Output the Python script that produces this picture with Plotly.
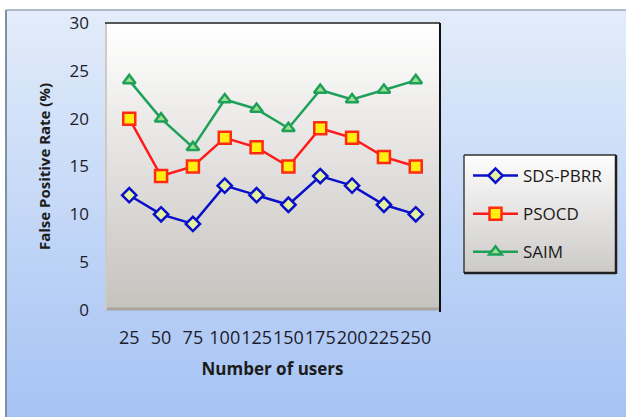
import plotly.graph_objects as go

# Data
users = ["25", "50", "75", "100", "125", "150", "175", "200", "225", "250"]
sds_pbrr = [12, 10, 9, 13, 12, 11, 14, 13, 11, 10]
psocd = [20, 14, 15, 18, 17, 15, 19, 18, 16, 15]
saim = [24, 20, 17, 22, 21, 19, 23, 22, 23, 24]

W, H = 626, 417
L, R, T, B = 105, 440, 23, 310  # plot area in pixels


def px(x):
    return (x - L) / (R - L)


def py(y):
    return (B - y) / (B - T)


def mix(c1, c2, t):
    return "rgb({},{},{})".format(*[round(a + (b - a) * t) for a, b in zip(c1, c2)])


def vgrad(x0, y0, x1, y1, c_top, c_bot, n=50):
    out = []
    step = (y1 - y0) / n
    for i in range(n):
        ya = y0 + i * step
        yb = ya + step + 0.6
        out.append(dict(type="rect", xref="paper", yref="paper", layer="below",
                        x0=px(x0), x1=px(x1), y0=py(ya), y1=py(min(yb, y1)),
                        line=dict(width=0), fillcolor=mix(c_top, c_bot, i / (n - 1))))
    return out


def seg(x0, y0, x1, y1, color, width):
    return dict(type="line", xref="paper", yref="paper", layer="below",
                x0=px(x0), x1=px(x1), y0=py(y0), y1=py(y1),
                line=dict(color=color, width=width))


shapes = []
# outer chart area
shapes += vgrad(6, 10, 640, 430, (226, 236, 250), (164, 194, 244), n=60)
shapes.append(seg(6, 10, 640, 10, "#9aa8b8", 1.5))
shapes.append(seg(6, 10, 6, 430, "#8090a0", 2))
# plot area
shapes += vgrad(L, T, R, B, (255, 255, 255), (198, 194, 190), n=60)
shapes.append(seg(L, B - 1, R, B - 1, "#a8a49e", 3))
shapes.append(seg(L + 1, T, L + 1, B, "#cfcac4", 2))
shapes.append(seg(L, T, R, T, "#202020", 1.5))
shapes.append(seg(R, T, R, B + 2, "#101010", 2))
# legend box
LX0, LY0, LX1, LY1 = 464, 155, 616, 273
shapes += vgrad(LX0, LY0, LX1, LY1, (252, 252, 252), (205, 203, 200), n=30)
shapes.append(seg(LX0, LY0, LX1, LY0, "#303030", 1.5))
shapes.append(seg(LX0, LY0, LX0, LY1, "#404040", 1.5))
shapes.append(seg(LX1, LY0, LX1, LY1 + 1, "#202020", 2.5))
shapes.append(seg(LX0, LY1, LX1, LY1, "#202020", 2.5))

FONT = "Open Sans"

fig = go.Figure()
fig.add_trace(go.Scatter(
    x=users, y=sds_pbrr, name="SDS-PBRR", mode="lines+markers", legendgroup="a",
    line=dict(color="#0a10c8", width=2.5),
    marker=dict(symbol="diamond", size=11, color="#e4f2a0",
                line=dict(color="#0a10c8", width=2.5))))
fig.add_trace(go.Scatter(
    x=users, y=psocd, name="PSOCD", mode="lines+markers", legendgroup="b",
    line=dict(color="#ff1a1a", width=2.5),
    marker=dict(symbol="square", size=12, color="#ffee10",
                line=dict(color="#ff2a10", width=2.5))))
fig.add_trace(go.Scatter(
    x=users, y=saim, name="SAIM", mode="lines+markers", legendgroup="c",
    line=dict(color="#1fa058", width=2.5),
    marker=dict(symbol="triangle-up", size=11, color="#9fe090",
                line=dict(color="#1fa058", width=2.5))))

fig.update_layout(
    width=W, height=H,
    margin=dict(l=L, r=W - R, t=T, b=H - B, pad=0),
    paper_bgcolor="white",
    plot_bgcolor="rgba(0,0,0,0)",
    shapes=shapes,
    showlegend=True,
    legend=dict(x=px(LX0 + 4), y=py(LY0 + 3), xanchor="left", yanchor="top",
                bgcolor="rgba(0,0,0,0)", borderwidth=0,
                font=dict(family=FONT, size=17, color="#1a1a1a"),
                itemwidth=45, tracegroupgap=13),
    xaxis=dict(type="category", showgrid=False, zeroline=False, showline=False,
               ticks="", tickangle=0, ticklabelstandoff=15,
               tickfont=dict(family=FONT, size=18, color="#1c1c2c"),
               title=dict(text="<b>Number of users</b>", standoff=15,
                          font=dict(family=FONT, size=17, color="#1c1c1c"))),
    yaxis=dict(range=[0, 30], dtick=5, showgrid=False, zeroline=False, showline=False,
               ticks="", ticklabelstandoff=15,
               tickfont=dict(family=FONT, size=17, color="#1c1c2c"),
               title=dict(text="<b>False Positive Rate (%)</b>", standoff=15,
                          font=dict(family=FONT, size=15, color="#1c1c1c"))),
)

fig.write_html("out.html")
